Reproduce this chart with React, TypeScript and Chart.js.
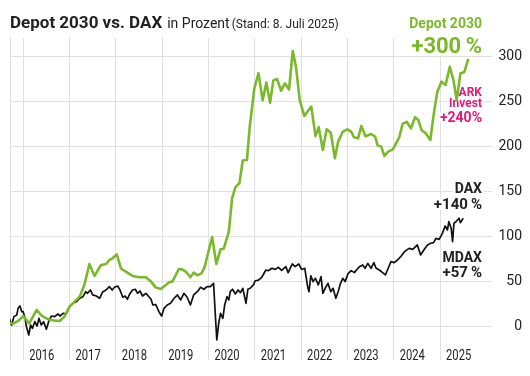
import React, { useEffect, useRef } from "react";
import { Chart, registerables } from "chart.js";

Chart.register(...registerables);

// ---- data (decimal years, percent performance) ----
const depotYears = [
  2015.70, 2015.77, 2015.89, 2016.00, 2016.13, 2016.29, 2016.39, 2016.54, 2016.68, 2016.79, 2016.89,
  2017.00, 2017.22, 2017.32, 2017.43, 2017.54, 2017.68, 2017.79, 2017.86, 2017.93,
  2018.02, 2018.11, 2018.25, 2018.36, 2018.50, 2018.65, 2018.76, 2018.86, 2018.97,
  2019.08, 2019.15, 2019.22, 2019.36, 2019.43, 2019.51, 2019.61, 2019.68, 2019.76, 2019.85, 2019.92, 2019.99,
  2020.08, 2020.17, 2020.26, 2020.33, 2020.44, 2020.51, 2020.58, 2020.67, 2020.74, 2020.83, 2020.89, 2020.99,
  2021.08, 2021.17, 2021.25, 2021.33, 2021.40, 2021.48, 2021.57, 2021.65, 2021.74, 2021.82, 2021.89, 2021.97,
  2022.07, 2022.15, 2022.22, 2022.31, 2022.38, 2022.47, 2022.55, 2022.64, 2022.73, 2022.80, 2022.90,
  2023.00, 2023.08, 2023.14, 2023.23, 2023.30, 2023.39, 2023.51, 2023.60, 2023.65, 2023.73, 2023.80, 2023.88, 2023.98,
  2024.05, 2024.12, 2024.19, 2024.28, 2024.37, 2024.46, 2024.53, 2024.60, 2024.69, 2024.79, 2024.87, 2024.94,
  2025.03, 2025.12, 2025.21, 2025.29, 2025.36, 2025.44, 2025.52, 2025.61,
];
const depotValues = [
  4.8, 3.3, 6.7, 12, 4, 19, 13, 8.5, 7, 6.7, 11.5,
  22.6, 33.7, 46.7, 70, 56.7, 68.9, 70, 74.4, 76.3,
  80.7, 65, 60.3, 56.7, 55.2, 55.2, 50.4, 44, 42.2,
  46.7, 49.6, 50.4, 64.4, 64, 61.5, 55.2, 60.4, 57.4, 59.6, 67, 81.9,
  100, 70, 86.3, 87, 106, 143, 155, 160, 185, 185.5, 222, 265,
  282, 252, 271.5, 249, 274, 275.5, 262.5, 270.7, 264, 306.7, 289, 252,
  234.4, 240.3, 244.8, 212, 222, 196.7, 219.7, 215.9, 187.4, 206, 217,
  219.6, 217, 210.8, 209.6, 223.3, 212, 214.4, 211.4, 202, 200.4, 190, 194.8, 197.4,
  204, 210.8, 225.6, 228, 220.7, 233, 230, 219, 215.2, 207.8, 239, 261,
  272.6, 268.9, 289, 274, 252, 282, 283, 298,
];
const daxYears = [
  2015.70, 2015.75, 2015.80, 2015.86, 2015.89, 2015.93, 2015.97, 2016.00, 2016.04, 2016.07, 2016.12, 2016.16, 2016.20,
  2016.25, 2016.30, 2016.34, 2016.39, 2016.44, 2016.50, 2016.56, 2016.61, 2016.68, 2016.75, 2016.80, 2016.86, 2016.93,
  2017.00, 2017.07, 2017.15, 2017.22, 2017.29, 2017.35, 2017.39, 2017.45, 2017.50, 2017.58, 2017.65, 2017.72, 2017.79, 2017.86, 2017.92, 2017.97,
  2018.04, 2018.09, 2018.15, 2018.20, 2018.25, 2018.30, 2018.36, 2018.42, 2018.47, 2018.52, 2018.58, 2018.65, 2018.70, 2018.76, 2018.80, 2018.86, 2018.93, 2018.99,
  2019.04, 2019.11, 2019.18, 2019.26, 2019.33, 2019.40, 2019.47, 2019.54, 2019.61, 2019.68, 2019.76, 2019.83, 2019.90, 2019.97,
  2020.04, 2020.11, 2020.15, 2020.18, 2020.22, 2020.26, 2020.31, 2020.35, 2020.40, 2020.44, 2020.47, 2020.52, 2020.58, 2020.64, 2020.69, 2020.74, 2020.81, 2020.85, 2020.90, 2020.97,
  2021.01, 2021.08, 2021.15, 2021.24, 2021.29, 2021.37, 2021.44, 2021.51, 2021.58, 2021.67, 2021.72, 2021.81, 2021.87, 2021.95,
  2022.01, 2022.08, 2022.14, 2022.17, 2022.21, 2022.26, 2022.31, 2022.37, 2022.43, 2022.47, 2022.52, 2022.58, 2022.64, 2022.69, 2022.75, 2022.80, 2022.85, 2022.90, 2022.95,
  2023.01, 2023.08, 2023.15, 2023.21, 2023.26, 2023.33, 2023.38, 2023.44, 2023.51, 2023.57, 2023.62, 2023.69, 2023.76, 2023.82, 2023.88, 2023.94,
  2024.01, 2024.08, 2024.15, 2024.23, 2024.33, 2024.41, 2024.51, 2024.58, 2024.66, 2024.73, 2024.80, 2024.86, 2024.91, 2024.98,
  2025.05, 2025.11, 2025.16, 2025.19, 2025.24, 2025.27, 2025.30, 2025.36, 2025.41, 2025.44, 2025.50,
];
const daxValues = [
  9.6, 2, 11.5, 13.3, 20.7, 23.3, 17, 17, 9.6, 0.4, -8.9, 2.2, -1.5,
  5.9, 1.1, 9.6, 2.2, 5.9, -2.6, 7.8, 12.2, 11.5, 14.4, 12.2, 15.2, 14.4,
  22.6, 26.3, 28.1, 31.9, 33.7, 39.2, 37.4, 41.1, 35.6, 34.4, 31.9, 39.2, 41.1, 44.8, 41.1, 44.1,
  45.6, 41.1, 33, 34.4, 30.8, 36.7, 41.1, 41.9, 37.4, 40, 34.4, 37.4, 34.4, 30.8, 24.4, 25, 17, 12.2,
  20.7, 24.4, 26.3, 31.9, 35.6, 30, 37.4, 33, 24.4, 35.6, 39.2, 44.1, 41.9, 44.8,
  44.8, 48.5, 11.5, -14.4, 4.1, 15.2, 9.6, 24.4, 33.7, 30, 39.2, 41.9, 36.7, 41.1, 38.1, 43, 26.3, 41.9, 43, 46.7,
  51.4, 52, 55.2, 63.3, 62.5, 65.2, 64, 66.3, 62.8, 67, 60.4, 70, 67, 70,
  63.9, 65.2, 45, 39.2, 56.7, 50.4, 54.1, 46.7, 55.9, 37.4, 43, 48.5, 39.2, 43, 31.9, 39.2, 48.5, 54.1, 50.4,
  58.9, 62.6, 60.4, 64.1, 67, 68.9, 65.2, 70.7, 65.2, 71.5, 65.2, 63.3, 60.4, 57.8, 65.2, 72.6,
  71.5, 74.4, 78.1, 83.7, 87.4, 86.3, 91.1, 80, 86.3, 91.1, 93, 93.7, 98.5, 97.4,
  104, 112.2, 107.8, 117, 109.7, 94.8, 115.2, 118, 120.8, 115.9, 120.8,
];
const yearTicks = [2016, 2017, 2018, 2019, 2020, 2021, 2022, 2023, 2024, 2025];
const valueTicks = [0, 50, 100, 150, 200, 250, 300];

const TITLE = "Depot 2030 vs. DAX";
const SUBTITLE = "in Prozent";
const STAND = "(Stand: 8. Juli 2025)";

// ---- styling ----
const FONT = "Roboto";
const GREEN = "#7ab929";
const PINK = "#e2187a";
const INK = "#222222";
const GRID = "#e0e0e0";
const X_MIN = 2015.715;
const X_MAX = 2026.13;
const Y_MIN = -36.7;
const Y_MAX = 321.1;

const annotations = [
  { text: "Depot 2030", font: `bold 14px ${FONT}`, color: GREEN, x: 482, y: 28 },
  { text: "+300\u2009%", font: `bold 22px ${FONT}`, color: GREEN, x: 482, y: 53 },
  { text: "ARK", font: `bold 12px ${FONT}`, color: PINK, x: 482, y: 95.5 },
  { text: "Invest", font: `bold 12px ${FONT}`, color: PINK, x: 482, y: 106.5 },
  { text: "+240%", font: `bold 14px ${FONT}`, color: PINK, x: 482, y: 122 },
  { text: "DAX", font: `bold 14px ${FONT}`, color: INK, x: 482, y: 193 },
  { text: "+140\u2009%", font: `bold 15px ${FONT}`, color: INK, x: 482, y: 209 },
  { text: "MDAX", font: `bold 14px ${FONT}`, color: INK, x: 482, y: 262 },
  { text: "+57\u2009%", font: `bold 15px ${FONT}`, color: INK, x: 482, y: 277 },
];

const overlay = {
  id: "overlay",
  beforeDatasetsDraw(chart: any) {
    const ctx = chart.ctx;
    for (const a of annotations) {
      ctx.save();
      ctx.font = a.font;
      ctx.textAlign = "right";
      ctx.textBaseline = "alphabetic";
      ctx.lineJoin = "round";
      ctx.strokeStyle = "#ffffff";
      ctx.lineWidth = 5;
      ctx.strokeText(a.text, a.x, a.y);
      ctx.fillStyle = a.color;
      ctx.fillText(a.text, a.x, a.y);
      ctx.restore();
    }
  },
  afterDraw(chart: any) {
    const ctx = chart.ctx;
    const xs = chart.scales.x;
    const area = chart.chartArea;
    ctx.save();
    // title
    ctx.textBaseline = "alphabetic";
    ctx.textAlign = "left";
    ctx.fillStyle = INK;
    ctx.font = `bold 17px ${FONT}`;
    let x = 10;
    ctx.fillText(TITLE, x, 28);
    x += ctx.measureText(TITLE).width + 5;
    ctx.font = `14px ${FONT}`;
    ctx.fillText(SUBTITLE, x, 28);
    x += ctx.measureText(SUBTITLE).width + 2;
    ctx.font = `12px ${FONT}`;
    ctx.fillText(STAND, x, 28);
    // year labels inside the plot, left-aligned after each year line
    ctx.font = `14px ${FONT}`;
    for (const yr of yearTicks) {
      const px = xs.getPixelForValue(yr) + 6;
      ctx.save();
      ctx.translate(px, area.bottom);
      ctx.scale(0.8, 1);
      ctx.fillText(String(yr), 0, 0);
      ctx.restore();
    }
    ctx.restore();
  },
};

export default function App() {
  const ref = useRef<HTMLCanvasElement | null>(null);
  useEffect(() => {
    if (!ref.current) return;
    Chart.defaults.font.family = FONT;
    const chart = new Chart(ref.current, {
      type: "line",
      data: {
        datasets: [
          {
            label: "Depot 2030",
            data: depotYears.map((x, i) => ({ x, y: depotValues[i] })),
            borderColor: GREEN,
            borderWidth: 2.6,
            borderJoinStyle: "round",
            pointRadius: 0,
            tension: 0,
          },
          {
            label: "DAX",
            data: daxYears.map((x, i) => ({ x, y: daxValues[i] })),
            borderColor: "#111111",
            borderWidth: 1.7,
            borderJoinStyle: "round",
            pointRadius: 0,
            tension: 0,
          },
        ],
      },
      options: {
        animation: false,
        responsive: false,
        devicePixelRatio: 1,
        layout: { padding: { top: 38, left: 10, right: 8, bottom: 16 } },
        plugins: { legend: { display: false }, tooltip: { enabled: false }, title: { display: false } },
        scales: {
          x: {
            type: "linear",
            min: X_MIN,
            max: X_MAX,
            afterBuildTicks: (s: any) => {
              s.ticks = [X_MIN, ...yearTicks].map((v) => ({ value: v }));
            },
            ticks: { display: false },
            grid: { color: GRID, drawTicks: false, lineWidth: 1 },
            border: { display: false },
          },
          y: {
            position: "right",
            min: Y_MIN,
            max: Y_MAX,
            afterBuildTicks: (s: any) => {
              s.ticks = valueTicks.map((v) => ({ value: v }));
            },
            ticks: { color: INK, font: { size: 14, family: FONT }, padding: 3, crossAlign: "far" },
            grid: { color: GRID, drawTicks: false, lineWidth: 1 },
            border: { display: false },
          },
        },
      },
      plugins: [overlay],
    } as any);
    return () => chart.destroy();
  }, []);
  return (
    <div style={{ position: "absolute", left: 0, top: 0, width: 530, height: 376, background: "#fff" }}>
      <canvas ref={ref} width={530} height={376} style={{ display: "block" }} />
    </div>
  );
}
